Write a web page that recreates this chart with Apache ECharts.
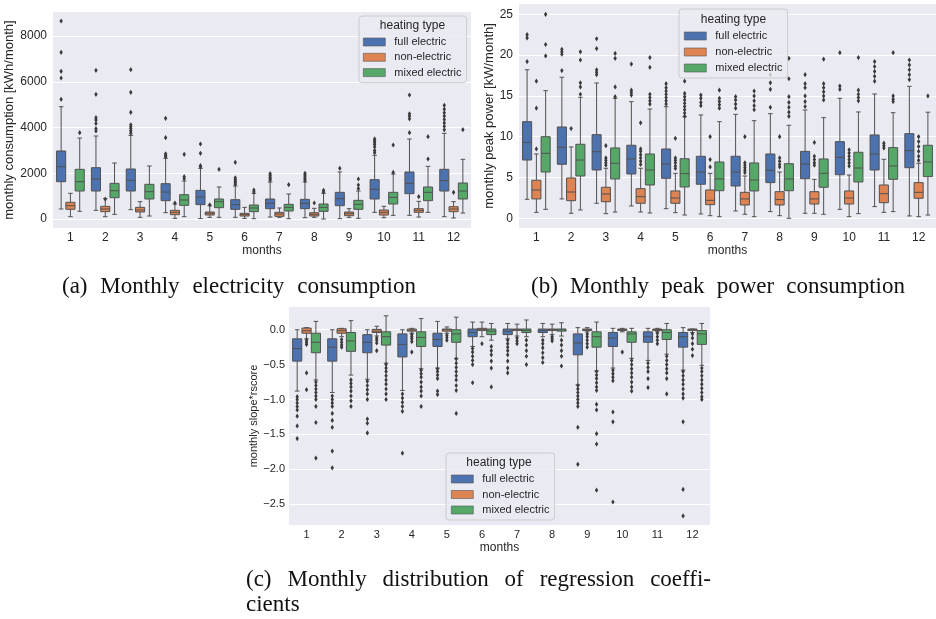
<!DOCTYPE html>
<html>
<head>
<meta charset="utf-8">
<script src="https://cdn.jsdelivr.net/npm/echarts@6/dist/echarts.min.js"></script>
<style>
  html, body { margin: 0; background: #fff; }
  #chart { width: 936px; height: 619px; }
</style>
</head>
<body>
<div id="chart"></div>
<script>
// box stats per month: [min whisker, q1, median, q3, max whisker]
const months = ['1', '2', '3', '4', '5', '6', '7', '8', '9', '10', '11', '12'];
const heatingTypes = ['full electric', 'non-electric', 'mixed electric'];

const consTicks = [0, 2000, 4000, 6000, 8000];
const peakTicks = [0, 5, 10, 15, 20, 25];
const slopeTicks = [0, -0.5, -1, -1.5, -2, -2.5];

// (a) monthly consumption [kWh/month]
const consFull = [
  [437, 1631, 2286, 2973, 4910], [380, 1224, 1749, 2244, 3628], [408, 1224, 1690, 2186, 3657],
  [277, 802, 1180, 1545, 2653], [20, 627, 962, 1253, 2215], [73, 423, 627, 845, 1443],
  [87, 452, 685, 874, 1617], [58, 452, 685, 860, 1617], [14, 583, 889, 1166, 2055],
  [292, 874, 1297, 1720, 2784], [160, 1108, 1560, 2055, 3497], [102, 1224, 1676, 2172, 3745]
];
const consNon = [
  [102, 424, 581, 730, 1122], [102, 321, 437, 555, 888], [73, 306, 393, 510, 758],
  [29, 190, 292, 380, 656], [73, 175, 248, 306, 582], [29, 131, 189, 248, 510],
  [73, 117, 219, 292, 481], [73, 131, 204, 277, 467], [73, 146, 233, 306, 452],
  [58, 175, 292, 393, 554], [87, 292, 379, 452, 772], [44, 321, 437, 539, 758]
];
const consMix = [
  [336, 1224, 1631, 2172, 3541], [204, 932, 1238, 1560, 2448], [131, 874, 1195, 1516, 2317],
  [102, 598, 831, 1063, 1661], [73, 496, 758, 874, 1399], [14, 321, 481, 612, 1122],
  [14, 350, 510, 641, 1093], [0, 335, 510, 656, 1122], [29, 423, 641, 816, 1224],
  [160, 656, 947, 1166, 1967], [292, 802, 1166, 1399, 2303], [262, 874, 1224, 1574, 2609]
];
const consFullOut = [
  [8656, 7287, 6456, 6164, 5232], [6500, 5450, 4430, 4330, 4180, 3950, 3850],
  [6528, 5537, 4663, 4120, 4030, 3950, 3850, 3750], [4401, 3555, 2850, 2780, 2720],
  [3279, 2872, 2330, 2280], [2478, 1800, 1720, 1650, 1580, 1520], [1980, 1900, 1830, 1760, 1700],
  [2000, 1920, 1840, 1760, 1690], [2215], [3500, 3420, 3340, 3260, 3150, 3000, 2900],
  [5421, 4600, 4500, 4380, 3773], [4970, 4800, 4650, 4500, 4350, 4200, 4050, 3900]
];
const consNonOut = [[], [870], [], [700], [620], [], [], [700], [], [], [976], [1166]];
const consMixOut = [
  [3773], [], [], [2828, 1850, 1760], [2172], [1268, 1190], [1501], [1253, 1180],
  [1749, 1486, 1330], [3235, 2040], [3600, 2623], [3905]
];

// (b) monthly peak power [kW/month]
const peakFull = [
  [2.33, 7.14, 9.3, 11.84, 18.2], [2.37, 6.62, 8.7, 11.19, 17.28], [1.84, 5.92, 8.16, 10.25, 16.58],
  [1.51, 5.43, 7.27, 8.95, 14.29], [1.18, 4.9, 6.65, 8.49, 13.68], [0.53, 4.17, 5.67, 7.6, 12.66],
  [0.9, 3.96, 5.67, 7.6, 12.74], [0.82, 4.37, 5.88, 7.88, 12.82], [0.61, 4.85, 6.65, 8.2, 13.27],
  [1.1, 5.34, 7.47, 9.39, 14.7], [1.43, 5.92, 7.88, 10.21, 15.23], [0.29, 6.2, 8.29, 10.37, 16.17]
];
const peakNon = [
  [0.73, 2.37, 3.47, 4.66, 7.88], [0.61, 2.16, 3.22, 4.94, 8.74], [0.57, 2.03, 2.98, 3.8, 6.13],
  [0.77, 1.84, 2.65, 3.63, 6.13], [0.69, 1.84, 2.49, 3.35, 5.51], [0.32, 1.67, 2.2, 3.47, 5.51],
  [0.49, 1.63, 2.37, 3.18, 5.18], [0.32, 1.63, 2.29, 3.26, 5.67], [0.61, 1.75, 2.37, 3.26, 4.78],
  [0.2, 1.75, 2.49, 3.35, 5.3], [0.73, 1.91, 3.02, 4.08, 7.23], [0.2, 2.45, 3.18, 4.37, 6.74]
];
const peakMix = [
  [1.1, 5.67, 7.96, 10.0, 15.64], [1.02, 5.18, 7.14, 9.07, 14.83], [0.77, 4.82, 6.74, 8.62, 14.7],
  [0.65, 4.08, 5.92, 7.88, 13.39], [0.4, 3.84, 5.47, 7.3, 12.45], [0.2, 3.38, 4.82, 6.9, 11.84],
  [0.2, 3.35, 4.69, 6.78, 11.96], [0, 3.38, 4.82, 6.69, 11.4], [0.49, 3.8, 5.51, 7.27, 12.33],
  [0.57, 4.45, 6.16, 8.09, 13.03], [0.82, 4.78, 6.41, 8.66, 12.94], [0.4, 5.1, 6.9, 8.95, 13.0]
];
const peakFullOut = [
  [22.5, 22.1, 19.2], [20.7, 20.4, 20.1, 18.1], [22.0, 20.8, 18.2, 17.9, 17.6], [18.9, 15.7, 15.4, 15.1],
  [16.5, 16.0, 15.6, 15.2, 14.8, 14.4, 14.0], [15.1, 14.7, 14.2, 13.8], [14.9, 14.5, 14.0, 13.5],
  [17.6, 16.6, 15.8, 13.6], [17.6, 16.5, 16.0, 15.0, 14.3, 13.7], [20.3, 16.2, 15.8],
  [19.2, 18.6, 18.0, 17.4, 16.8], [19.4, 18.8, 18.2, 17.6, 17.0]
];
const peakNonOut = [
  [16.8, 13.5, 8.5], [11.0], [8.9, 7.4, 7.1, 6.8, 6.5], [11.7, 8.5, 8.2, 7.8, 7.4, 7.0, 6.6],
  [9.8, 7.4, 7.1, 6.8, 6.4, 6.1], [10.0, 7.2, 6.3], [10.0, 6.8, 6.5, 6.2, 5.9, 5.6],
  [10.0, 7.4, 7.0, 6.6, 6.3], [9.3, 7.6, 7.2, 6.8, 6.5], [8.4, 8.0, 7.6, 7.2, 6.8, 6.4],
  [9.2, 8.9, 8.6], [10.0, 9.4, 8.8, 8.2, 7.6, 7.1]
];
const peakMixOut = [
  [25.0, 21.3, 19.9], [20.4, 19.4, 16.6, 16.1, 15.2], [20.2, 19.6, 16.1, 14.9],
  [19.7, 18.5, 15.2, 14.8, 14.4, 14.0], [16.8, 15.3, 14.9, 14.5, 14.1, 13.7, 13.3, 12.9, 12.5],
  [15.7, 14.7, 14.3, 13.9, 13.5], [15.6, 15.0, 14.4, 13.8, 13.3],
  [19.6, 17.1, 14.9, 14.2, 13.6, 13.0, 12.5], [19.5, 16.5, 16.0, 15.5, 15.0, 14.5],
  [19.7, 15.7, 15.2, 14.8, 14.4], [20.3, 15.0, 14.6, 14.3], [15.0]
];

// (c) monthly slope*rscore
const slopeFull = [
  [-0.88, -0.45, -0.27, -0.13, 0.0], [-0.9, -0.45, -0.25, -0.13, 0.0], [-0.71, -0.33, -0.18, -0.07, 0.0],
  [-0.87, -0.39, -0.21, -0.06, 0.0], [-0.55, -0.24, -0.14, -0.05, 0.12], [-0.24, -0.1, -0.04, 0.01, 0.11],
  [-0.13, -0.07, -0.02, 0.01, 0.09], [-0.1, -0.04, -0.01, 0.01, 0.09], [-0.79, -0.36, -0.19, -0.06, 0.03],
  [-0.55, -0.24, -0.12, -0.04, 0.02], [-0.44, -0.18, -0.1, -0.03, 0.02], [-0.58, -0.25, -0.1, -0.04, 0.03]
];
const slopeNon = [
  [-0.13, -0.05, -0.014, 0.024, 0.03], [-0.1, -0.05, -0.014, 0.014, 0.02], [-0.09, -0.04, -0.02, 0.005, 0.05],
  [-0.05, -0.02, -0.005, 0.01, 0.02], [-0.05, -0.02, 0.0, 0.01, 0.04], [-0.1, -0.01, 0.0, 0.02, 0.11],
  [-0.09, -0.01, 0.0, 0.01, 0.08], [-0.07, -0.01, 0.0, 0.01, 0.08], [-0.03, -0.01, 0.0, 0.01, 0.03],
  [-0.03, -0.01, 0.0, 0.01, 0.02], [-0.03, -0.01, 0.0, 0.01, 0.02], [-0.04, -0.01, 0.0, 0.01, 0.01]
];
const slopeMix = [
  [-0.72, -0.33, -0.18, -0.05, 0.12], [-0.65, -0.31, -0.16, -0.04, 0.13], [-0.48, -0.22, -0.1, -0.03, 0.2],
  [-0.56, -0.24, -0.11, -0.03, 0.16], [-0.41, -0.18, -0.06, 0.0, 0.18], [-0.15, -0.07, -0.02, 0.01, 0.09],
  [-0.1, -0.04, -0.01, 0.01, 0.14], [-0.09, -0.02, 0.0, 0.01, 0.1], [-0.59, -0.25, -0.1, -0.03, 0.11],
  [-0.41, -0.18, -0.06, -0.03, 0.02], [-0.35, -0.14, -0.04, 0.0, 0.09], [-0.51, -0.21, -0.06, -0.01, 0.09]
];
const slopeFullOut = [
  [-0.96, -1.0, -1.05, -1.1, -1.15, -1.24, -1.38, -1.56],
  [-0.95, -1.0, -1.05, -1.1, -1.2, -1.3, -1.4, -1.74, -1.98],
  [-0.74, -0.8, -0.86, -0.92, -1.0, -1.28, -1.34, -1.48],
  [-0.92, -0.98, -1.04, -1.1, -1.17, -1.77],
  [-0.56, -0.6, -0.65, -0.7, -0.88, -0.93],
  [-0.27, -0.32, -0.38, -0.44, -0.5, -0.76],
  [-0.15, -0.2, -0.25, -0.3, -0.36, -0.45, -0.55, -0.62],
  [-0.15, -0.2, -0.26, -0.33, -0.4, -0.47],
  [-0.8, -0.85, -0.9, -0.95, -1.0, -1.05, -1.1, -1.4, -1.93],
  [-0.58, -0.63, -0.68, -0.73, -1.18, -1.32, -2.47],
  [-0.48, -0.54, -0.6, -0.7, -0.83],
  [-0.6, -0.66, -0.72, -0.78, -0.85, -0.92, -0.98, -1.32, -2.29, -2.67]
];
const slopeNonOut = [
  [-0.15, -0.18, -0.21, -0.62, -0.86], [-0.14, -0.18, -0.22, -0.25], [-0.12, -0.15, -0.19, -0.3],
  [-0.07, -0.1, -0.13, -0.17, -0.32], [-0.08, -0.11, -0.15], [-0.2], [-0.12, -0.16, -0.2],
  [-0.1, -0.13, -0.16], [-0.06, -0.1, -0.15, -0.2, -0.25], [-0.32], [-0.05, -0.1, -0.15, -0.2],
  [-0.06, -0.12, -0.2, -0.28, -0.37]
];
const slopeMixOut = [
  [-0.75, -0.8, -0.85, -0.9, -0.95, -1.0, -1.1, -1.33, -1.84],
  [-0.72, -0.77, -0.82, -0.88, -0.95, -1.02, -1.1],
  [-0.5, -0.55, -0.6, -0.66, -0.72, -0.78, -0.85, -0.92, -1.0],
  [-0.58, -0.63, -0.68, -0.75, -0.82, -0.88, -0.95, -1.1],
  [-0.42, -0.48, -0.54, -0.6, -0.66, -0.72, -0.8, -0.87, -1.2],
  [-0.24, -0.3, -0.36, -0.45, -0.55, -0.82],
  [-0.15, -0.22, -0.3, -0.38, -0.5],
  [-0.15, -0.22, -0.3, -0.38, -0.52],
  [-0.6, -0.65, -0.7, -0.76, -0.82, -0.87, -1.07, -1.15, -1.49, -1.64, -2.3],
  [-0.44, -0.5, -0.56, -0.62, -0.68, -0.75, -0.82, -0.88],
  [-0.38, -0.44, -0.5, -0.56, -0.62, -0.7, -0.92],
  [-0.55, -0.6, -0.66, -0.72, -0.78, -0.84, -0.9, -0.96, -1.0]
];

const hueColors = ['#4C72B0', '#DD8452', '#55A868'];
const lineColor = '#515151';
const sans = '"Liberation Sans", Arial, sans-serif';
const serif = '"Liberation Serif", "Times New Roman", serif';
const textColor = '#262626';

const panels = [
  {
    grid: { left: 53, top: 12, width: 418, height: 216 },
    min: -393, max: 9049, ticks: consTicks, fmt: v => String(v),
    name: 'monthly consumption [kWh/month]', nameGap: 30, nameSize: 13, tickSize: 12,
    xMargin: 4, yMargin: 6, monthsGap: 14,
    boxes: [consFull, consNon, consMix], outs: [consFullOut, consNonOut, consMixOut],
    legend: { left: 359, top: 16, pad: [20, 5, 4, 4], gap: 3.3, titleX: 412.5, titleY: 26 }
  },
  {
    grid: { left: 519, top: 4, width: 429, height: 224 },
    min: -1.19, max: 26.26, ticks: peakTicks, fmt: v => String(v),
    name: 'monthly peak power [kW/month]', nameGap: 20.5, nameSize: 13, tickSize: 12,
    xMargin: 4, yMargin: 6, monthsGap: 16,
    boxes: [peakFull, peakNon, peakMix], outs: [peakFullOut, peakNonOut, peakMixOut],
    legend: { left: 679, top: 9, pad: [21, 5, 4, 5], gap: 4, titleX: 733.5, titleY: 20 }
  },
  {
    grid: { left: 289, top: 307, width: 421, height: 218 },
    min: -2.8, max: 0.326, ticks: slopeTicks,
    fmt: v => (v === 0 ? '0.0' : '\u2212' + Math.abs(v).toFixed(1)),
    name: 'monthly slope*rscore', nameGap: 27.5, nameSize: 11, tickSize: 11,
    xMargin: 4.5, yMargin: 4, monthsGap: 17,
    boxes: [slopeFull, slopeNon, slopeMix], outs: [slopeFullOut, slopeNonOut, slopeMixOut],
    legend: { left: 446, top: 453, pad: [20, 5, 4, 5], gap: 3.5, titleX: 499, titleY: 463 }
  }
];

function slotOf(api) {
  return api.size([1, 0])[0] * 0.8 / 3;
}

function renderBox(hue) {
  return function (params, api) {
    const cat = api.value(0);
    const slot = slotOf(api);
    const w = slot * 0.98;
    const cx = api.coord([cat, 0])[0] + (hue - 1) * slot;
    const y = [1, 2, 3, 4, 5].map(i => api.coord([cat, api.value(i)])[1]);
    const cap = w * 0.25;
    const ls = { stroke: lineColor, lineWidth: 1 };
    return {
      type: 'group',
      children: [
        { type: 'line', shape: { x1: cx, y1: y[0], x2: cx, y2: y[1] }, style: ls },
        { type: 'line', shape: { x1: cx, y1: y[3], x2: cx, y2: y[4] }, style: ls },
        { type: 'line', shape: { x1: cx - cap, y1: y[0], x2: cx + cap, y2: y[0] }, style: ls },
        { type: 'line', shape: { x1: cx - cap, y1: y[4], x2: cx + cap, y2: y[4] }, style: ls },
        {
          type: 'rect',
          shape: { x: cx - w / 2, y: y[3], width: w, height: y[1] - y[3] },
          style: { fill: hueColors[hue], stroke: lineColor, lineWidth: 1 }
        },
        { type: 'line', shape: { x1: cx - w / 2, y1: y[2], x2: cx + w / 2, y2: y[2] }, style: ls }
      ]
    };
  };
}

function renderFlier(hue) {
  return function (params, api) {
    const p = api.coord([api.value(0), api.value(1)]);
    const x = p[0] + (hue - 1) * slotOf(api);
    const yv = p[1];
    return {
      type: 'polygon',
      shape: { points: [[x, yv - 2.6], [x + 1.7, yv], [x, yv + 2.6], [x - 1.7, yv]] },
      style: { fill: '#3a3a3a' }
    };
  };
}

const option = {
  backgroundColor: '#fff',
  animation: false,
  grid: [], xAxis: [], yAxis: [], series: [], legend: [], graphic: []
};

panels.forEach((p, gi) => {
  option.grid.push(Object.assign({ show: true, backgroundColor: '#EAEAF2', borderWidth: 0 }, p.grid));
  option.xAxis.push({
    type: 'category', gridIndex: gi, data: months,
    axisLine: { show: false }, axisTick: { show: false }, splitLine: { show: false },
    axisLabel: { fontSize: p.tickSize, color: textColor, fontFamily: sans, margin: p.xMargin },
    name: 'months', nameLocation: 'middle', nameGap: p.monthsGap,
    nameTextStyle: { fontSize: 12, color: textColor, fontFamily: sans }
  });
  option.yAxis.push({
    type: 'value', gridIndex: gi, min: p.min, max: p.max,
    axisLine: { show: false },
    axisTick: { show: false, customValues: p.ticks },
    axisLabel: {
      customValues: p.ticks, formatter: p.fmt, fontSize: p.tickSize,
      color: textColor, fontFamily: sans, margin: p.yMargin
    },
    splitLine: { show: true, lineStyle: { color: '#ffffff', width: 1.2 } },
    name: p.name, nameLocation: 'middle', nameGap: p.nameGap,
    nameTextStyle: { fontSize: p.nameSize, color: textColor, fontFamily: sans }
  });
  heatingTypes.forEach((ht, hue) => {
    option.series.push({
      type: 'custom', name: ht, xAxisIndex: gi, yAxisIndex: gi,
      itemStyle: { color: hueColors[hue] },
      renderItem: renderBox(hue),
      encode: { x: 0, y: [1, 2, 3, 4, 5] },
      data: p.boxes[hue].map((s, i) => [i].concat(s)),
      z: 3
    });
    const fl = [];
    p.outs[hue].forEach((vals, i) => vals.forEach(v => fl.push([i, v])));
    option.series.push({
      type: 'custom', name: ht + ' outliers', xAxisIndex: gi, yAxisIndex: gi,
      renderItem: renderFlier(hue),
      encode: { x: 0, y: 1 },
      data: fl,
      z: 3
    });
  });
  const L = p.legend;
  option.legend.push({
    data: heatingTypes, orient: 'vertical', left: L.left, top: L.top,
    icon: 'rect', itemWidth: 22, itemHeight: 8, itemGap: L.gap,
    padding: L.pad, backgroundColor: 'rgba(234,234,242,0.8)',
    borderColor: '#cccccc', borderWidth: 1, borderRadius: 3,
    selectedMode: false,
    itemStyle: { borderColor: '#555', borderWidth: 0.6 },
    textStyle: { fontSize: 11, lineHeight: 12, color: textColor, fontFamily: sans, padding: [0, 0, 0, 4] },
    z: 10
  });
  option.graphic.push({
    type: 'text', x: L.titleX, y: L.titleY, z: 20,
    style: { text: 'heating type', fontSize: 12, fontFamily: sans, fill: textColor, align: 'center', verticalAlign: 'middle' }
  });
});

// captions, spread word by word between measured extents
const measureCtx = document.createElement('canvas').getContext('2d');
function captionLine(text, x0, x1, y, size, justify) {
  const font = size + 'px ' + serif;
  measureCtx.font = font;
  const words = text.split(' ');
  const widths = words.map(w => measureCtx.measureText(w).width);
  const total = widths.reduce((a, b) => a + b, 0);
  const gap = justify && words.length > 1 ? (x1 - x0 - total) / (words.length - 1) : measureCtx.measureText(' ').width;
  let x = x0;
  words.forEach((w, i) => {
    option.graphic.push({
      type: 'text', x: x, y: y, z: 20,
      style: { text: w, fontSize: size, fontFamily: serif, fill: '#111', verticalAlign: 'middle' }
    });
    x += widths[i] + gap;
  });
}
captionLine('(a) Monthly electricity consumption', 62, 416, 287, 23, true);
captionLine('(b) Monthly peak power consumption', 531, 905, 287, 23, true);
captionLine('(c) Monthly distribution of regression coeffi-', 246, 711, 580, 23, true);
captionLine('cients', 246, 306, 605, 23, false);

const chart = echarts.init(document.getElementById('chart'), null, { renderer: 'canvas' });
chart.setOption(option);
</script>
</body>
</html>
